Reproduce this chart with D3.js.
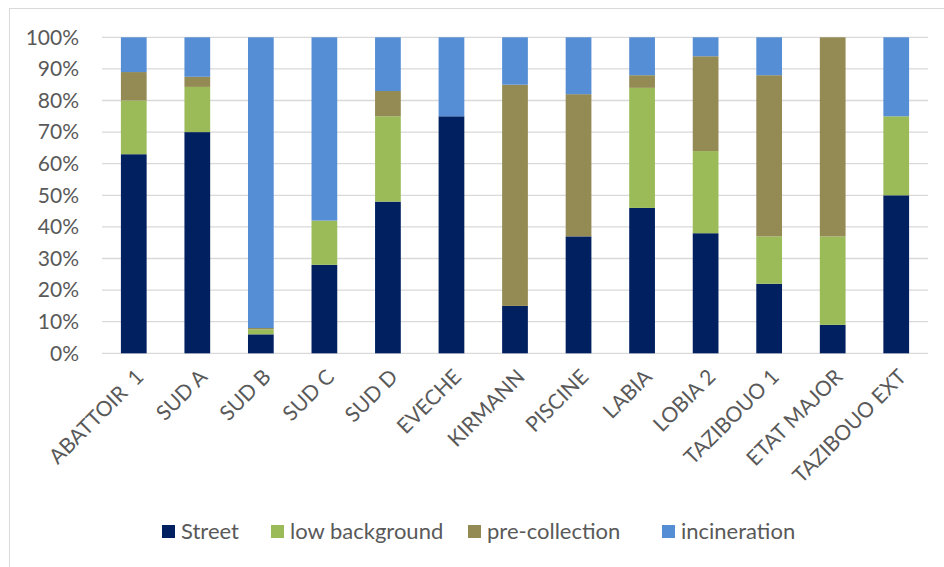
<!DOCTYPE html>
<html><head><meta charset="utf-8">
<script src="https://cdn.jsdelivr.net/npm/d3@7/dist/d3.min.js"></script>
<style>body{margin:0;background:#fff}svg{display:block}text{font-family:Lato,"Open Sans",sans-serif;fill:#595959}</style>
</head><body><svg id="c" width="944" height="567"></svg>
<script>
const categories = ["ABATTOIR  1","SUD A","SUD B","SUD C","SUD D","EVECHE","KIRMANN","PISCINE","LABIA","LOBIA 2","TAZIBOUO 1","ETAT MAJOR","TAZIBOUO EXT"];
const seriesNames = ["Street","low background","pre-collection","incineration"];
const street        = [63, 70, 6,   28, 48, 75, 15, 37, 46, 38, 22, 9,  50];
const lowBackground = [17, 14.3, 1.6, 14, 27, 0,  0,  0,  38, 26, 15, 28, 25];
const preCollection = [9,  3.2, 0.4, 0,  8,  0,  70, 45, 4,  30, 51, 63, 0];
const incineration  = [11, 12.5, 92, 58, 17, 25, 15, 18, 12, 6,  12, 0,  25];
const yTicks = [0,10,20,30,40,50,60,70,80,90,100];
const colors = ["#002060","#9BBB59","#948A54","#558ED5"];

const rows = categories.map((c,i)=>({cat:c, "Street":street[i], "low background":lowBackground[i], "pre-collection":preCollection[i], "incineration":incineration[i]}));
const stacked = d3.stack().keys(seriesNames)(rows);

const svg = d3.select("#c");
svg.append("rect").attr("x",9.5).attr("y",8.5).attr("width",960).attr("height",600).attr("fill","none").attr("stroke","#d9d9d9").attr("stroke-width",1);

const x = d3.scaleBand().domain(categories).range([102,928]).paddingInner(0.595).paddingOuter(0.2975);
const y = d3.scaleLinear().domain([0,100]).range([353.3,37.3]);

svg.append("g").selectAll("line").data(yTicks).join("line")
  .attr("x1",102).attr("x2",928).attr("y1",d=>y(d)).attr("y2",d=>y(d))
  .attr("stroke","#d9d9d9").attr("stroke-width",1.3);

svg.append("g").selectAll("g").data(stacked).join("g")
  .attr("fill",(d,i)=>colors[i])
  .selectAll("rect").data(d=>d).join("rect")
  .attr("x",d=>x(d.data.cat)).attr("width",x.bandwidth())
  .attr("y",d=>y(d[1])).attr("height",d=>Math.max(0,y(d[0])-y(d[1])));

svg.append("g").selectAll("text").data(yTicks).join("text")
  .attr("x",79).attr("y",d=>y(d)).attr("dy","0.35em").attr("text-anchor","end")
  .style("font-size","21px").text(d=>d+"%");

svg.append("g").selectAll("text").data(categories).join("text")
  .attr("transform",d=>`translate(${x(d)+x.bandwidth()/2+6},${373}) rotate(-45)`)
  .attr("text-anchor","end").attr("dy","0.35em")
  .style("font-size","21px").style("white-space","pre").attr("xml:space","preserve").text(d=>d);

const legX = [162, 271, 468, 662];
const leg = svg.append("g").selectAll("g").data(seriesNames).join("g")
  .attr("transform",(d,i)=>`translate(${legX[i]},525)`);
leg.append("rect").attr("width",13).attr("height",13).attr("fill",(d,i)=>colors[i]);
leg.append("text").attr("x",19).attr("y",6.5).attr("dy","0.35em").style("font-size","22px").text(d=>d);
</script></body></html>
